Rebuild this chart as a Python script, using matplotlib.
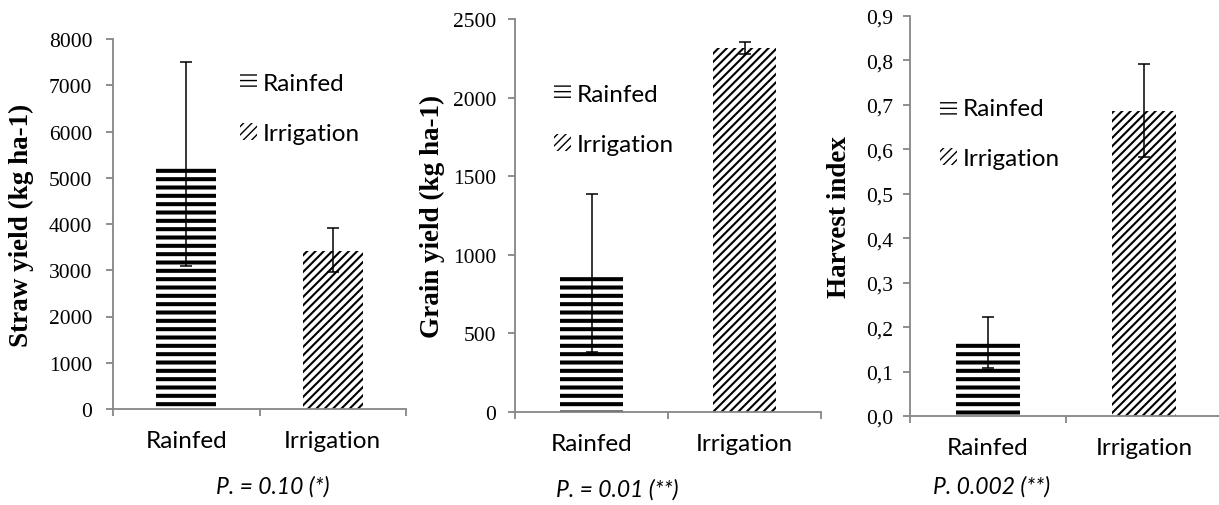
""" Straw yield, grain yield and harvest index: rainfed vs irrigation """

import matplotlib
matplotlib.use('Agg')
import matplotlib.pyplot as plt
from matplotlib.patches import Patch
from matplotlib.ticker import FuncFormatter

# -- Data

treatments = ['Rainfed', 'Irrigation']

straw_mean = [5250, 3420]
straw_lo = [2150, 460]
straw_hi = [2250, 500]

grain_mean = [875, 2315]
grain_lo = [495, 40]
grain_hi = [510, 40]

hi_mean = [0.164, 0.687]
hi_lo = [0.055, 0.104]
hi_hi = [0.059, 0.105]

straw_ticks = [0, 1000, 2000, 3000, 4000, 5000, 6000, 7000, 8000]
grain_ticks = [0, 500, 1000, 1500, 2000, 2500]
hi_ticks = [0.0, 0.1, 0.2, 0.3, 0.4, 0.5, 0.6, 0.7, 0.8, 0.9]

ylabels = ['Straw yield (kg ha-1)', 'Grain yield (kg ha-1)', 'Harvest index']
pvalues = ['P. = 0.10 (*)', 'P. = 0.01 (**)', 'P. 0.002 (**)']

# -- Style

serif = 'Liberation Serif'
sans = 'Lato'
grey = '#868686'
hatches = ['--', '////']
hatch_lw = [2.9, 1.5]
leg_hatches = ['---', '////']
leg_lw = [2.2, 1.5]

W, H = 1219, 506
fig = plt.figure(figsize=(W / 100, H / 100), dpi=100)


def px(x0, y0, x1, y1):
    """ Axes rectangle from pixel box (left, top, right, bottom). """
    return [x0 / W, 1 - y1 / H, (x1 - x0) / W, (y1 - y0) / H]


panels = [
    dict(rect=px(113, 40, 406, 410), mean=straw_mean, err=[straw_lo, straw_hi],
         ticks=straw_ticks, lab_x=-0.27, pad=10, leg=(240, 74), p=(273, 487)),
    dict(rect=px(515, 20, 821, 413), mean=grain_mean, err=[grain_lo, grain_hi],
         ticks=grain_ticks, lab_x=-0.23, pad=8.5, leg=(554, 85), p=(617, 490)),
    dict(rect=px(910, 17, 1222, 417), mean=hi_mean, err=[hi_lo, hi_hi],
         ticks=hi_ticks, lab_x=-0.185, pad=7, leg=(940, 99), p=(992, 487)),
]

for k, pan in enumerate(panels):
    ax = fig.add_axes(pan['rect'])
    x = [0, 1]
    for i in range(2):
        with plt.rc_context({'hatch.linewidth': hatch_lw[i], 'hatch.color': 'black'}):
            ax.bar(x[i], pan['mean'][i], width=0.41, color='white',
                   edgecolor='black', linewidth=0, hatch=hatches[i])
    ax.errorbar(x, pan['mean'], yerr=pan['err'], fmt='none', ecolor='black',
                elinewidth=1.1, capsize=4.5, capthick=1.1)

    ax.set_xlim(-0.5, 1.5)
    ax.set_ylim(pan['ticks'][0], pan['ticks'][-1])
    ax.set_yticks(pan['ticks'])
    if k == 2:
        ax.yaxis.set_major_formatter(FuncFormatter(lambda v, _: f'{v:.1f}'.replace('.', ',')))
    ax.set_xticks(x)
    ax.set_xticklabels(treatments, fontfamily=sans, fontsize=17.5)
    ax.set_xticks([-0.5, 0.5, 1.5], minor=True)
    ax.tick_params(axis='x', which='major', length=0, pad=15)
    ax.tick_params(axis='x', which='minor', length=5, width=1.3, color=grey, direction='out')
    ax.tick_params(axis='y', length=5, width=1.3, color=grey, direction='out', pad=pan['pad'])
    for t in ax.get_yticklabels():
        t.set_fontfamily(serif)
        t.set_fontsize(15.5)

    for s in ['top', 'right']:
        ax.spines[s].set_visible(False)
    for s in ['left', 'bottom']:
        ax.spines[s].set_color(grey)
        ax.spines[s].set_linewidth(1.3)

    ax.set_ylabel(ylabels[k], fontfamily=serif, fontweight='bold', fontsize=19.5)
    ax.yaxis.set_label_coords(pan['lab_x'], 0.5)

    handles = []
    for i in range(2):
        with plt.rc_context({'hatch.linewidth': leg_lw[i]}):
            handles.append(Patch(facecolor='white', edgecolor='black',
                                 linewidth=0, hatch=leg_hatches[i]))
    lx, ly = pan['leg']
    fig.legend(handles, treatments, loc='upper left',
               bbox_to_anchor=(lx / W, 1 - ly / H), frameon=False,
               prop={'family': sans, 'size': 17.5}, handlelength=0.7,
               handleheight=0.7, handletextpad=0.25, labelspacing=1.2,
               borderpad=0, borderaxespad=0)

    fig.text(pan['p'][0] / W, 1 - pan['p'][1] / H, pvalues[k], ha='center',
             va='center', fontfamily=sans, fontstyle='italic', fontsize=16.5)

fig.savefig('out.png', dpi=100)
